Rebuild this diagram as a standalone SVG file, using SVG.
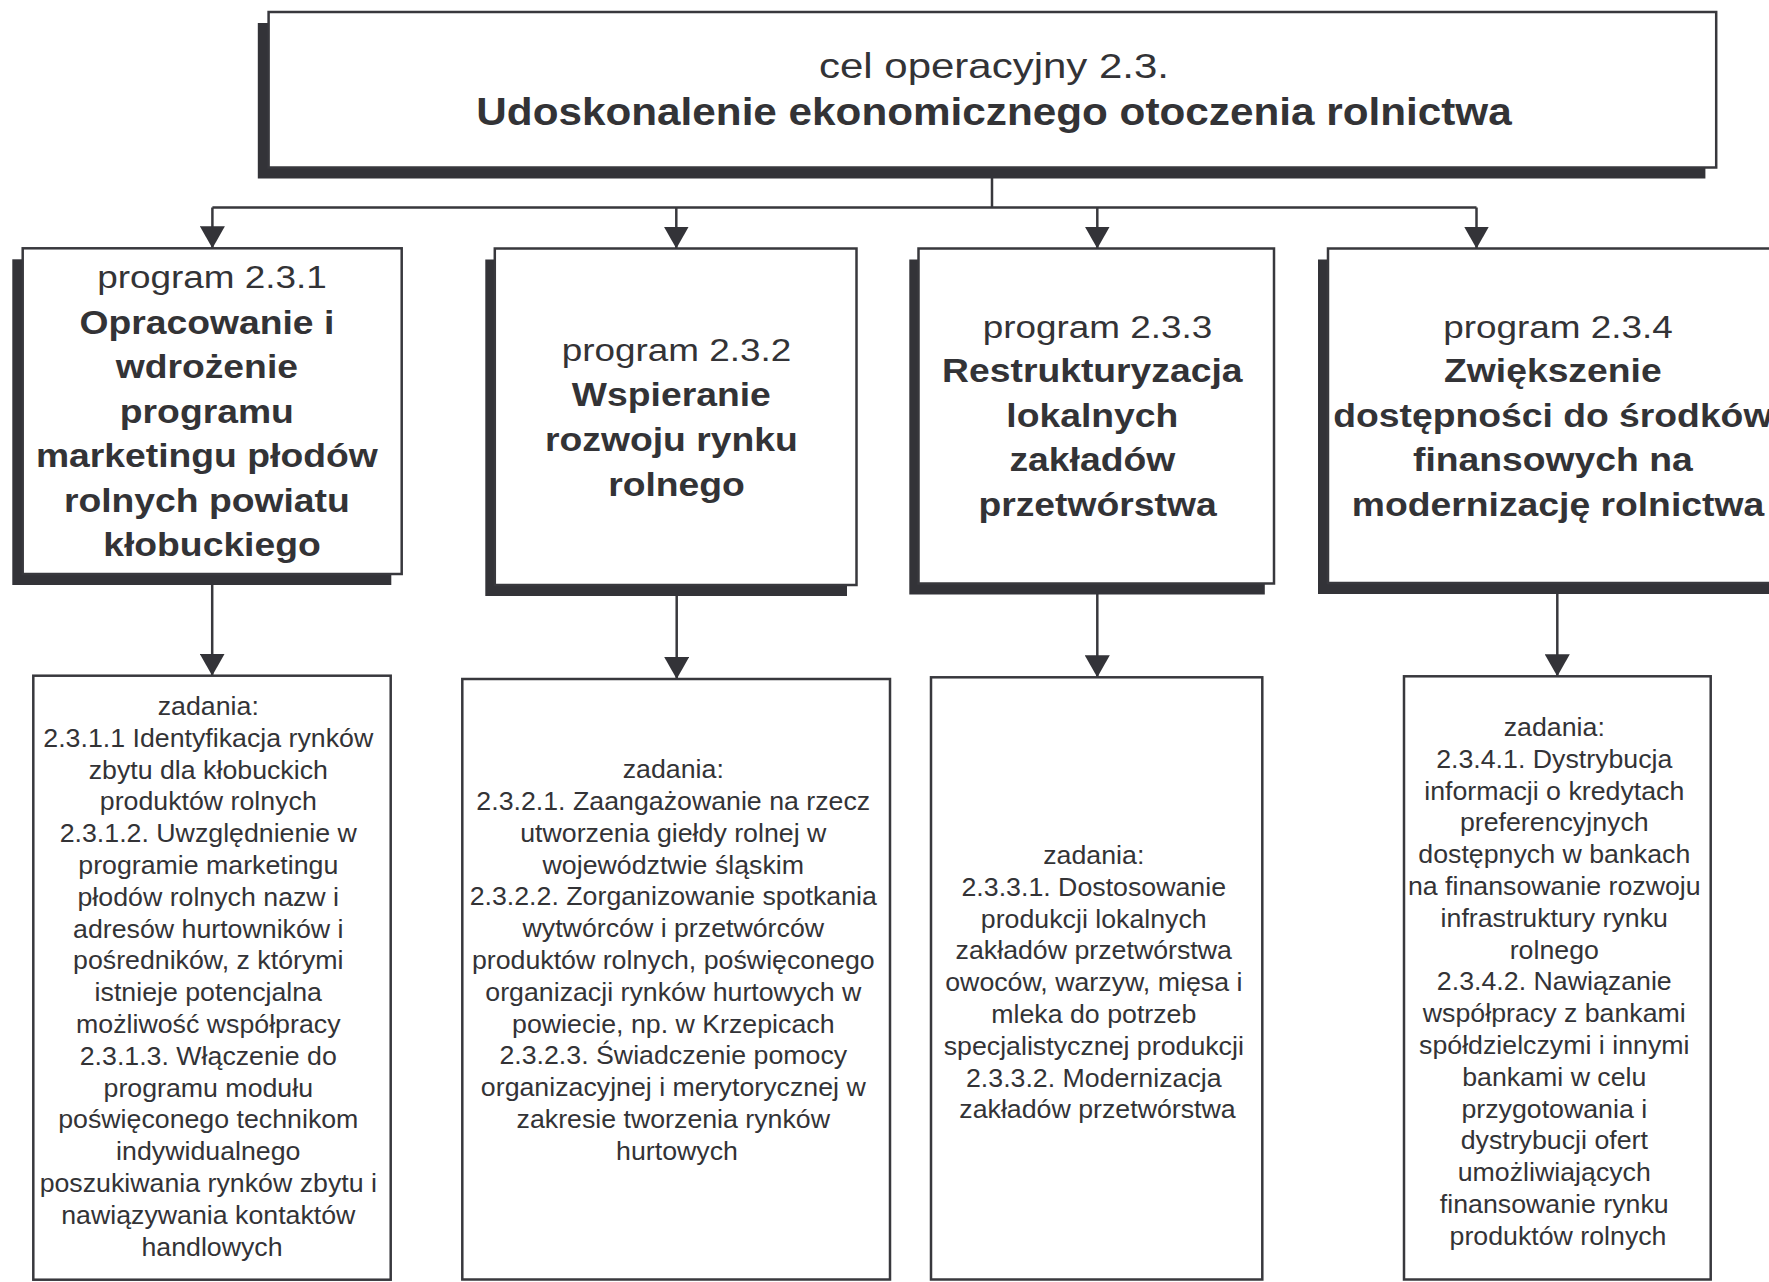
<svg xmlns="http://www.w3.org/2000/svg" width="1769" height="1282" viewBox="0 0 1769 1282">
<defs>
<style>
.bg{fill:#ffffff}
.box{fill:#ffffff;stroke:#38383d;stroke-width:2.5}
.shadow{fill:#333338}
.con{fill:none;stroke:#38383d;stroke-width:2.5}
text{font-family:"Liberation Sans",Arial,sans-serif;fill:#333336;text-anchor:middle}
.t-reg{font-size:35px}
.t-bold{font-size:39.5px;font-weight:bold}
.p-reg{font-size:31px}
.p-bold{font-size:33px;font-weight:bold}
.z{font-size:25px}
</style>
<marker id="arr" viewBox="0 0 22 25" refX="22" refY="12.5" markerWidth="22" markerHeight="25" markerUnits="userSpaceOnUse" orient="auto">
<path d="M0,0 L22,12.5 L0,25 z" fill="#333338"/>
</marker>
</defs>
<rect class="bg" x="0" y="0" width="1769" height="1282"/>

<g id="connectors">
<path class="con" d="M992 178 V207.5 M212.4 207.5 H1476.5"/>
<path class="con" d="M212.4 207.5 V248.3" marker-end="url(#arr)"/>
<path class="con" d="M676.3 207.5 V248.5" marker-end="url(#arr)"/>
<path class="con" d="M1097.3 207.5 V248.5" marker-end="url(#arr)"/>
<path class="con" d="M1476.5 207.5 V248.5" marker-end="url(#arr)"/>
<path class="con" d="M212.2 585 V675.7" marker-end="url(#arr)"/>
<path class="con" d="M676.7 596 V679" marker-end="url(#arr)"/>
<path class="con" d="M1097.3 594 V677.3" marker-end="url(#arr)"/>
<path class="con" d="M1557.3 594 V676.3" marker-end="url(#arr)"/>
</g>

<g id="cel">
<rect class="shadow" x="257.8" y="23" width="1447.6" height="155.5"/>
<rect class="box" x="268.6" y="12" width="1447.6" height="155.5"/>
<text class="t-reg" transform="translate(994 0) scale(1.2 1)" x="0" y="78.3">cel operacyjny 2.3.</text>
<text class="t-bold" transform="translate(994 0) scale(1.07 1)" x="0" y="125">Udoskonalenie ekonomicznego otoczenia rolnictwa</text>
</g>

<g id="program-2-3-1">
<rect class="shadow" x="12.3" y="259.3" width="379" height="325.7"/>
<rect class="box" x="22.7" y="248.3" width="379" height="325.7"/>
<text class="p-reg" transform="translate(212 0) scale(1.19 1)" x="0" y="288.3">program 2.3.1</text>
<text class="p-bold" transform="translate(212 0) scale(1.13 1)">
<tspan x="0" y="334">Opracowanie i</tspan>
<tspan x="0" y="378.5">wdrożenie</tspan>
<tspan x="0" y="423">programu</tspan>
<tspan x="0" y="467.5">marketingu płodów</tspan>
<tspan x="0" y="512">rolnych powiatu</tspan>
<tspan x="0" y="556.5">kłobuckiego</tspan>
</text>
</g>

<g id="program-2-3-2">
<rect class="shadow" x="485.3" y="259.5" width="361.7" height="336.5"/>
<rect class="box" x="494.8" y="248.5" width="361.7" height="336.5"/>
<text class="p-reg" transform="translate(676.5 0) scale(1.19 1)" x="0" y="361.5">program 2.3.2</text>
<text class="p-bold" transform="translate(676.5 0) scale(1.13 1)">
<tspan x="0" y="406.3">Wspieranie</tspan>
<tspan x="0" y="451">rozwoju rynku</tspan>
<tspan x="0" y="495.6">rolnego</tspan>
</text>
</g>

<g id="program-2-3-3">
<rect class="shadow" x="909.3" y="259.5" width="355.5" height="335"/>
<rect class="box" x="918.5" y="248.5" width="355.5" height="335"/>
<text class="p-reg" transform="translate(1097.5 0) scale(1.19 1)" x="0" y="338">program 2.3.3</text>
<text class="p-bold" transform="translate(1097.5 0) scale(1.13 1)">
<tspan x="0" y="382.5">Restrukturyzacja</tspan>
<tspan x="0" y="427">lokalnych</tspan>
<tspan x="0" y="471.5">zakładów</tspan>
<tspan x="0" y="516">przetwórstwa</tspan>
</text>
</g>

<g id="program-2-3-4">
<rect class="shadow" x="1318" y="259.5" width="500" height="334.5"/>
<rect class="box" x="1328" y="248.5" width="500" height="334.5"/>
<text class="p-reg" transform="translate(1558 0) scale(1.19 1)" x="0" y="338">program 2.3.4</text>
<text class="p-bold" transform="translate(1558 0) scale(1.13 1)">
<tspan x="0" y="382.5">Zwiększenie</tspan>
<tspan x="0" y="427">dostępności do środków</tspan>
<tspan x="0" y="471.5">finansowych na</tspan>
<tspan x="0" y="516">modernizację rolnictwa</tspan>
</text>
</g>

<g id="zadania-2-3-1">
<rect class="box" x="33.3" y="675.7" width="357.4" height="604"/>
<text class="z" transform="translate(212 0) scale(1.07 1)">
<tspan x="0" y="715">zadania:</tspan>
<tspan x="0" dy="31.8">2.3.1.1 Identyfikacja rynków</tspan>
<tspan x="0" dy="31.8">zbytu dla kłobuckich</tspan>
<tspan x="0" dy="31.8">produktów rolnych</tspan>
<tspan x="0" dy="31.8">2.3.1.2. Uwzględnienie w</tspan>
<tspan x="0" dy="31.8">programie marketingu</tspan>
<tspan x="0" dy="31.8">płodów rolnych nazw i</tspan>
<tspan x="0" dy="31.8">adresów hurtowników i</tspan>
<tspan x="0" dy="31.8">pośredników, z którymi</tspan>
<tspan x="0" dy="31.8">istnieje potencjalna</tspan>
<tspan x="0" dy="31.8">możliwość współpracy</tspan>
<tspan x="0" dy="31.8">2.3.1.3. Włączenie do</tspan>
<tspan x="0" dy="31.8">programu modułu</tspan>
<tspan x="0" dy="31.8">poświęconego technikom</tspan>
<tspan x="0" dy="31.8">indywidualnego</tspan>
<tspan x="0" dy="31.8">poszukiwania rynków zbytu i</tspan>
<tspan x="0" dy="31.8">nawiązywania kontaktów</tspan>
<tspan x="0" dy="31.8">handlowych</tspan>
</text>
</g>

<g id="zadania-2-3-2">
<rect class="box" x="462.3" y="679" width="427.7" height="600.5"/>
<text class="z" transform="translate(677 0) scale(1.07 1)">
<tspan x="0" y="778.3">zadania:</tspan>
<tspan x="0" dy="31.8">2.3.2.1. Zaangażowanie na rzecz</tspan>
<tspan x="0" dy="31.8">utworzenia giełdy rolnej w</tspan>
<tspan x="0" dy="31.8">województwie śląskim</tspan>
<tspan x="0" dy="31.8">2.3.2.2. Zorganizowanie spotkania</tspan>
<tspan x="0" dy="31.8">wytwórców i przetwórców</tspan>
<tspan x="0" dy="31.8">produktów rolnych, poświęconego</tspan>
<tspan x="0" dy="31.8">organizacji rynków hurtowych w</tspan>
<tspan x="0" dy="31.8">powiecie, np. w Krzepicach</tspan>
<tspan x="0" dy="31.8">2.3.2.3. Świadczenie pomocy</tspan>
<tspan x="0" dy="31.8">organizacyjnej i merytorycznej w</tspan>
<tspan x="0" dy="31.8">zakresie tworzenia rynków</tspan>
<tspan x="0" dy="31.8">hurtowych</tspan>
</text>
</g>

<g id="zadania-2-3-3">
<rect class="box" x="931" y="677.3" width="331.3" height="602.2"/>
<text class="z" transform="translate(1097.5 0) scale(1.07 1)">
<tspan x="0" y="864">zadania:</tspan>
<tspan x="0" dy="31.8">2.3.3.1. Dostosowanie</tspan>
<tspan x="0" dy="31.8">produkcji lokalnych</tspan>
<tspan x="0" dy="31.8">zakładów przetwórstwa</tspan>
<tspan x="0" dy="31.8">owoców, warzyw, mięsa i</tspan>
<tspan x="0" dy="31.8">mleka do potrzeb</tspan>
<tspan x="0" dy="31.8">specjalistycznej produkcji</tspan>
<tspan x="0" dy="31.8">2.3.3.2. Modernizacja</tspan>
<tspan x="0" dy="31.8">zakładów przetwórstwa</tspan>
</text>
</g>

<g id="zadania-2-3-4">
<rect class="box" x="1404" y="676.3" width="306.7" height="603.2"/>
<text class="z" transform="translate(1558 0) scale(1.07 1)">
<tspan x="0" y="736">zadania:</tspan>
<tspan x="0" dy="31.8">2.3.4.1. Dystrybucja</tspan>
<tspan x="0" dy="31.8">informacji o kredytach</tspan>
<tspan x="0" dy="31.8">preferencyjnych</tspan>
<tspan x="0" dy="31.8">dostępnych w bankach</tspan>
<tspan x="0" dy="31.8">na finansowanie rozwoju</tspan>
<tspan x="0" dy="31.8">infrastruktury rynku</tspan>
<tspan x="0" dy="31.8">rolnego</tspan>
<tspan x="0" dy="31.8">2.3.4.2. Nawiązanie</tspan>
<tspan x="0" dy="31.8">współpracy z bankami</tspan>
<tspan x="0" dy="31.8">spółdzielczymi i innymi</tspan>
<tspan x="0" dy="31.8">bankami w celu</tspan>
<tspan x="0" dy="31.8">przygotowania i</tspan>
<tspan x="0" dy="31.8">dystrybucji ofert</tspan>
<tspan x="0" dy="31.8">umożliwiających</tspan>
<tspan x="0" dy="31.8">finansowanie rynku</tspan>
<tspan x="0" dy="31.8">produktów rolnych</tspan>
</text>
</g>
</svg>
